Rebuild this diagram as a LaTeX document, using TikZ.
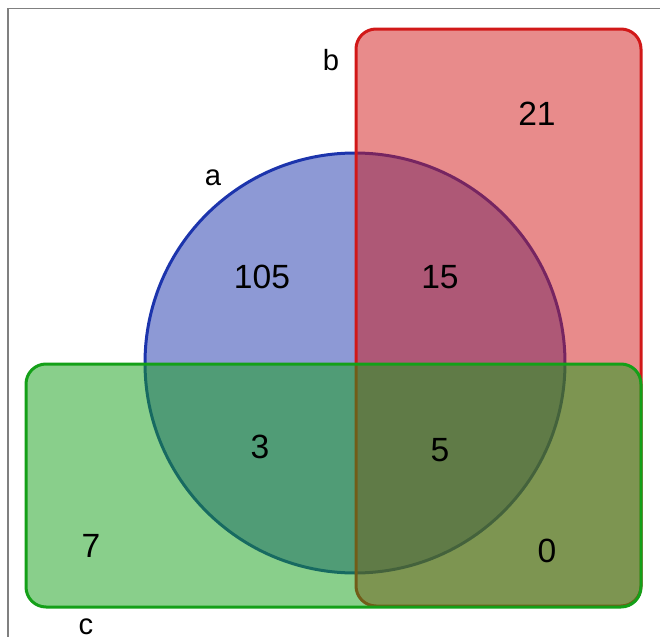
\documentclass[tikz,border=0pt]{standalone}
\usepackage{fontspec}
\setmainfont{Liberation Sans}
\definecolor{setA}{RGB}{28,52,172}
\definecolor{setB}{RGB}{209,24,24}
\definecolor{setC}{RGB}{20,160,24}
\newcommand{\numfont}{\fontsize{16.8}{20}\selectfont}
\newcommand{\lblfont}{\fontsize{14.6}{18}\selectfont}

\begin{document}
\begin{tikzpicture}[x=0.5pt,y=-0.5pt,
  setshape/.style={line width=1.5pt,fill opacity=0.5,rounded corners=10pt},
  count/.style={font=\numfont,inner sep=0pt},
  setname/.style={font=\lblfont,inner sep=0pt}]

\useasboundingbox (0,0) rectangle (660,637);
\draw[gray,line width=0.8pt] (8,660) -- (8,8.5) -- (680,8.5);

% sets, drawn a, b, c
\draw[setshape,draw=setA,fill=setA] (355,363) circle (210);
\draw[setshape,draw=setB,fill=setB] (356,29) rectangle (641,606);
\draw[setshape,draw=setC,fill=setC] (26,364) rectangle (641,607);

\node[setname] (la) at (213,178) {a};
\node[setname] (lb) at (331,60) {b};
\node[setname] (lc) at (86,627) {c};

\node[count] (nA) at (262,277) {105};
\node[count] (nAB) at (440,277) {15};
\node[count] (nB) at (537,114) {21};
\node[count] (nAC) at (260,447) {3};
\node[count] (nABC) at (440,450) {5};
\node[count] (nC) at (91,546) {7};
\node[count] (nBC) at (547,551) {0};

\end{tikzpicture}
\end{document}
